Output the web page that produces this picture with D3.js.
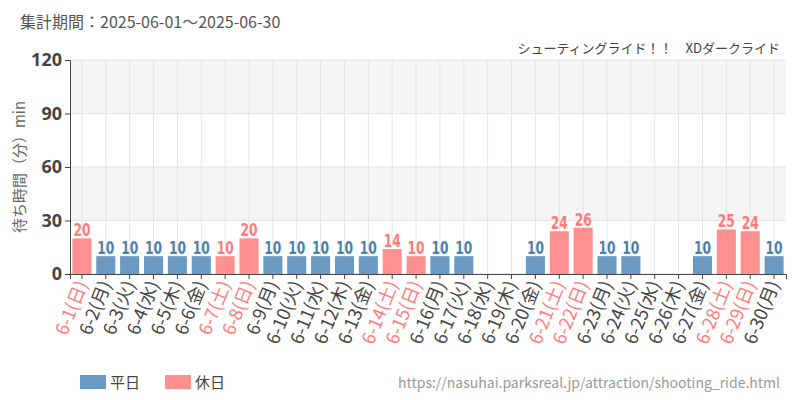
<!DOCTYPE html><html><head><meta charset="utf-8"><script src="https://cdn.jsdelivr.net/npm/d3@7"></script>
<style>body{margin:0;background:#fff}text{font-family:"Noto Sans CJK JP","Noto Sans",sans-serif}</style></head><body><svg id="c" width="800" height="400"></svg><script>
const days=d3.range(1,31).map(d=>"6-"+d);
const weekdays=["日","月","火","水","木","金","土","日","月","火","水","木","金","土","日","月","火","水","木","金","土","日","月","火","水","木","金","土","日","月"];
const holiday=[1,0,0,0,0,0,1,1,0,0,0,0,0,1,1,0,0,0,0,0,1,1,0,0,0,0,0,1,1,0];
const values=[20,10,10,10,10,10,10,20,10,10,10,10,10,14,10,10,10,null,null,10,24,26,10,10,null,null,10,25,24,10];
const yTicks=[0,30,60,90,120];
const svg=d3.select("#c");
const L=70,R=786,T=60,B=274;
const x=d3.scaleBand().domain(days).range([L,R]).paddingInner(0.2).paddingOuter(0.1);
const y=d3.scaleLinear().domain([0,120]).range([B,T]);
[[90,120],[30,60]].forEach(([a,b])=>svg.append("rect").attr("x",L).attr("y",y(b)).attr("width",R-L).attr("height",y(a)-y(b)).attr("fill","#f5f5f5"));
svg.selectAll(".vg").data(days).join("line").attr("x1",d=>x(d)+x.bandwidth()/2).attr("x2",d=>x(d)+x.bandwidth()/2).attr("y1",T).attr("y2",B).attr("stroke","#e4e4e4");
svg.selectAll(".hg").data(yTicks).join("line").attr("x1",L).attr("x2",R).attr("y1",d=>y(d)).attr("y2",d=>y(d)).attr("stroke","#e4e4e4");
const data=days.map((d,i)=>({d,v:values[i],h:holiday[i],w:weekdays[i]}));
svg.selectAll(".bar").data(data.filter(e=>e.v!=null)).join("rect").attr("x",e=>x(e.d)).attr("width",x.bandwidth()).attr("y",e=>y(e.v)).attr("height",e=>B-y(e.v)).attr("fill",e=>e.h?"#ff9090":"#6a9ac4");
svg.selectAll(".vl").data(data.filter(e=>e.v!=null)).join("text").attr("transform",e=>`translate(${x(e.d)+x.bandwidth()/2},${y(e.v)-2}) scale(0.8,1)`).attr("text-anchor","middle").attr("font-size",17).attr("font-weight","bold").style("font-family","'DejaVu Sans Condensed','Liberation Sans Narrow',sans-serif").attr("fill",e=>e.h?"#ff7a7a":"#4a7fb0").text(e=>e.v);
const ya=svg.append("g").attr("transform",`translate(${L},0)`).call(d3.axisLeft(y).tickValues(yTicks).tickSize(5));
ya.selectAll("text").attr("font-size",18).attr("fill","#444").attr("font-weight","bold").style("font-family","'Open Sans',sans-serif");
ya.selectAll("line,path").attr("stroke","#444");
const xa=svg.append("g").attr("transform",`translate(0,${B})`).call(d3.axisBottom(x).tickSize(5).tickFormat(""));
xa.selectAll("line,path").attr("stroke","#444");
svg.selectAll(".xl").data(data).join("text").attr("transform",e=>`translate(${x(e.d)+x.bandwidth()/2+6},${B+10}) rotate(-68)`).attr("text-anchor","end").attr("font-size",18).attr("fill",e=>e.h?"#ff7a7a":"#444").text(e=>e.d+"("+e.w+")");
svg.append("text").attr("transform",`translate(25,${(T+B)/2}) rotate(-90)`).attr("text-anchor","middle").attr("font-size",15).attr("fill","#666").text("待ち時間（分）min");
svg.append("text").attr("x",20).attr("y",28).attr("font-size",16).attr("fill","#555").text("集計期間：2025-06-01～2025-06-30");
svg.append("text").attr("x",780).attr("y",53).attr("text-anchor","end").attr("font-size",13).attr("fill","#444").text("シューティングライド！！　XDダークライド");
[["平日","#6a9ac4",80],["休日","#ff9090",165]].forEach(([t,c,lx])=>{svg.append("rect").attr("x",lx).attr("y",375).attr("width",26).attr("height",14).attr("fill",c);svg.append("text").attr("x",lx+30).attr("y",388).attr("font-size",15).attr("fill","#444").text(t);});
svg.append("text").attr("x",780).attr("y",388).attr("text-anchor","end").attr("font-size",14).attr("fill","#999").text("https://nasuhai.parksreal.jp/attraction/shooting_ride.html");
</script></body></html>
